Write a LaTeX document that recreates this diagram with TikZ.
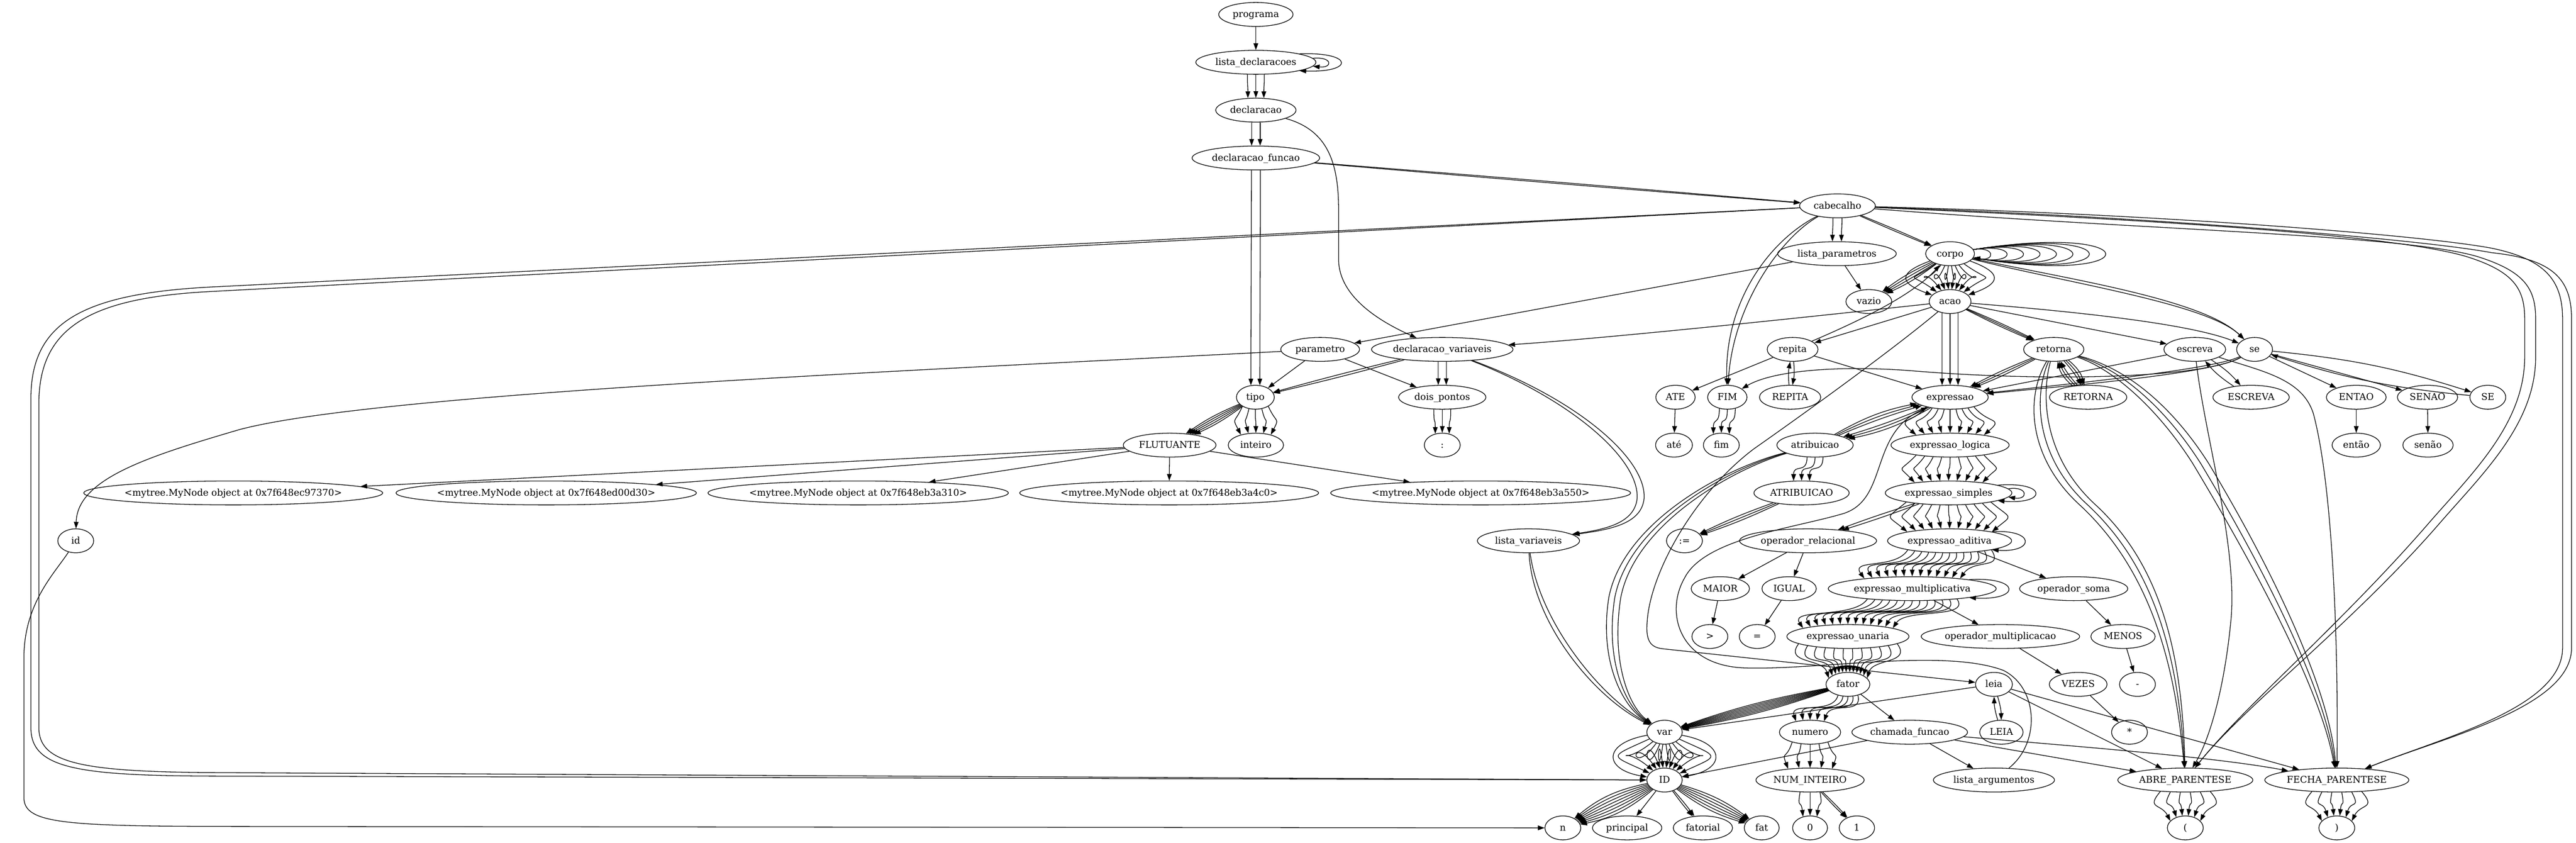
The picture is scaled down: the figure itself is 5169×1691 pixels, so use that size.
\documentclass[tikz,border=0pt]{standalone}
\usepackage{fontspec}
\setmainfont{DejaVu Serif}
\usetikzlibrary{arrows.meta,calc,shapes.geometric}
\newcommand\gn[5]{\node[gnode, minimum width={#4*0.75pt}] (#1) at (#2,#3) {\makebox[0pt]{#5}};}
% fan of parallel edges: from, to, count, sep at start, sep at end, bulge, ctrl length, rx start, rx end
\newcommand\fanx[9]{%
 \foreach \i in {1,...,#3}{%
  \pgfmathsetmacro\myoa{(\i-(#3+1)/2)*#4}%
  \pgfmathsetmacro\myob{(\i-(#3+1)/2)*#5}%
  \pgfmathsetmacro\myya{24*(1-sqrt(max(0,1-(\myoa/#8)*(\myoa/#8))))}%
  \pgfmathsetmacro\myyb{24*(1-sqrt(max(0,1-(\myob/#9)*(\myob/#9))))}%
  \draw[arr] ($(#1.south)+(\myoa,-\myya)$) .. controls +({\myoa*#6},#7) and +({\myob*#6},-#7) .. ($(#2.north)+(\myob,\myyb)$);}}
% round fan between two stacked small nodes: from, to, count, max angle, reach
\newcommand\arcfan[5]{%
 \foreach \i in {1,...,#3}{%
  \pgfmathsetmacro\myang{-#4+2*#4*(\i-1)/(#3-1)}%
  \pgfmathtruncatemacro\mysa{270+\myang}%
  \pgfmathtruncatemacro\myea{90-\myang}%
  \pgfmathsetmacro\mycx{sin(\myang)*#5}%
  \pgfmathsetmacro\mycy{cos(\myang)*#5}%
  \draw[arr] (#1.\mysa) .. controls +(\mycx,\mycy) and +(\mycx,-\mycy) .. (#2.\myea);}}
% lens of bent edges: from, to, count, angle step, angle offset
\newcommand\lens[5]{%
 \foreach \i in {1,...,#3}{%
  \pgfmathsetmacro\myang{#5+(\i-(#3+1)/2)*#4}%
  \draw[arr] (#1) to[bend left=\myang] (#2);}}
% self loop: node, start angle, end angle, reach, height
\newcommand\sloop[5]{\draw[arr] (#1.#2) .. controls +(#4,-#5) and +(#4,#5) .. (#1.#3);}
\begin{document}
\begin{tikzpicture}[x=0.75pt,y=-0.75pt,
 gnode/.style={draw,ellipse,line width=1pt,minimum height=36pt,inner sep=0pt,text height=11pt,text depth=2.2pt,font=\fontsize{14pt}{17pt}\selectfont},
 arr/.style={draw,line width=1pt,-{Triangle[length=10pt,width=7pt]}}]
\fill[white] (0,0) rectangle (5169,1691);
\useasboundingbox (0,0) rectangle (5169,1691);
% ---------------- nodes ----------------
\gn{programa}{2520}{29}{149}{programa}
\gn{listadecl}{2520}{125}{241}{lista\_declaracoes}
\gn{declaracao}{2520}{221}{161}{declaracao}
\gn{declfunc}{2520}{317}{256}{declaracao\_funcao}
\gn{cabecalho}{3687}{413}{152}{cabecalho}
\gn{listaparam}{3686}{509}{238}{lista\_parametros}
\gn{corpo}{3913}{509}{98}{corpo}
\gn{vazio}{3750}{605}{92}{vazio}
\gn{acao}{3913}{605}{84}{acao}
\gn{parametro}{2649}{701}{158}{parametro}
\gn{declvar}{2894}{701}{284}{declaracao\_variaveis}
\gn{repita}{3597}{701}{102}{repita}
\gn{retorna}{4121}{701}{121}{retorna}
\gn{escreva}{4404}{701}{124}{escreva}
\gn{se}{4524}{701}{72}{se}
\gn{tipo}{2519}{797}{76}{tipo}
\gn{doispontos}{2894}{797}{175}{dois\_pontos}
\gn{ATE}{3362}{797}{79}{ATE}
\gn{FIM}{3466}{797}{79}{FIM}
\gn{REPITA}{3592}{797}{123}{REPITA}
\gn{expressao}{3913}{797}{153}{expressao}
\gn{RETORNA}{4190}{797}{155}{RETORNA}
\gn{ESCREVA}{4517}{797}{153}{ESCREVA}
\gn{ENTAO}{4728}{797}{120}{ENTAO}
\gn{SENAO}{4871}{797}{121}{SENAO}
\gn{SE}{4992}{797}{72}{SE}
\gn{FLUTUANTE}{2347}{893}{186}{FLUTUANTE}
\gn{inteiro}{2520}{893}{111}{inteiro}
\gn{colon}{2894}{893}{72}{:}
\gn{ateL}{3359}{893}{74}{até}
\gn{fimL}{3454}{893}{72}{fim}
\gn{atribuicao}{3642}{893}{153}{atribuicao}
\gn{exlogica}{3913}{893}{237}{expressao\_logica}
\gn{entao}{4728}{893}{97}{então}
\gn{senao}{4872}{893}{101}{senão}
\gn{mtA}{468}{989}{600}{<mytree.MyNode object at 0x7f648ec97370>}
\gn{mtB}{1096}{989}{603}{<mytree.MyNode object at 0x7f648ed00d30>}
\gn{mtC}{1722}{989}{603}{<mytree.MyNode object at 0x7f648eb3a310>}
\gn{mtD}{2346}{989}{600}{<mytree.MyNode object at 0x7f648eb3a4c0>}
\gn{mtE}{2971}{989}{602}{<mytree.MyNode object at 0x7f648eb3a550>}
\gn{ATRIBUICAO}{3615}{989}{191}{ATRIBUICAO}
\gn{exsimples}{3910}{989}{254}{expressao\_simples}
\gn{id}{152}{1085}{72}{id}
\gn{listavar}{3067}{1085}{205}{lista\_variaveis}
\gn{assign}{3380}{1085}{72}{:=}
\gn{oprel}{3628}{1085}{275}{operador\_relacional}
\gn{exaditiva}{3912}{1085}{249}{expressao\_aditiva}
\gn{MAIOR}{3452}{1181}{117}{MAIOR}
\gn{IGUAL}{3590}{1181}{109}{IGUAL}
\gn{exmult}{3837}{1181}{337}{expressao\_multiplicativa}
\gn{opsoma}{4161}{1181}{217}{operador\_soma}
\gn{gt}{3431}{1277}{72}{>}
\gn{eq}{3526}{1277}{72}{=}
\gn{exunaria}{3708}{1277}{245}{expressao\_unaria}
\gn{opmult}{4014}{1277}{318}{operador\_multiplicacao}
\gn{MENOS}{4260}{1277}{129}{MENOS}
\gn{fator}{3708}{1373}{88}{fator}
\gn{leia}{4001}{1373}{74}{leia}
\gn{VEZES}{4170}{1373}{116}{VEZES}
\gn{minus}{4289}{1373}{72}{-}
\gn{var}{3340}{1469}{71}{var}
\gn{numero}{3632}{1469}{123}{numero}
\gn{chamada}{3832}{1469}{232}{chamada\_funcao}
\gn{LEIA}{4016}{1469}{87}{LEIA}
\gn{times}{4273}{1469}{72}{*}
\gn{ID}{3340}{1565}{71}{ID}
\gn{numint}{3632}{1565}{217}{NUM\_INTEIRO}
\gn{listaarg}{4001}{1565}{243}{lista\_argumentos}
\gn{ABRE}{4385}{1565}{271}{ABRE\_PARENTESE}
\gn{FECHA}{4689}{1565}{289}{FECHA\_PARENTESE}
\gn{n}{3136}{1661}{72}{n}
\gn{principal}{3265}{1661}{139}{principal}
\gn{fatorial}{3417}{1661}{119}{fatorial}
\gn{fat}{3535}{1661}{70}{fat}
\gn{zero}{3632}{1661}{70}{0}
\gn{one}{3726}{1661}{71}{1}
\gn{lparen}{4385}{1661}{72}{(}
\gn{rparen}{4689}{1661}{72}{)}
% ---------------- fans (vertical multi-edges) ----------------
\fanx{listadecl}{declaracao}{3}{17}{16}{0}{30}{120}{80}
\fanx{declaracao}{declfunc}{2}{17}{17}{0}{30}{80}{128}
\fanx{declfunc}{tipo}{2}{18}{18}{0}{100}{128}{38}
\fanx{cabecalho}{listaparam}{2}{18}{18}{0}{30}{76}{119}
\arcfan{corpo}{acao}{10}{70}{70}
\fanx{acao}{expressao}{3}{16}{16}{0}{60}{42}{76}
\fanx{expressao}{exlogica}{9}{12}{17}{0.6}{35}{76}{118}
\fanx{exlogica}{exsimples}{9}{17}{17}{0.5}{35}{118}{127}
\fanx{exsimples}{exaditiva}{11}{17}{17}{0.5}{35}{127}{124}
\fanx{exaditiva}{exmult}{13}{14}{16}{0.3}{40}{124}{168}
\fanx{exmult}{exunaria}{13}{15}{15}{0.3}{40}{168}{122}
\fanx{exunaria}{fator}{12}{18}{7}{0.3}{40}{122}{44}
\fanx{fator}{numero}{5}{10}{14}{0.5}{40}{44}{61}
\arcfan{var}{ID}{12}{80}{90}
\fanx{numero}{numint}{5}{18}{22}{0.3}{35}{61}{108}
\fanx{numint}{zero}{3}{20}{14}{0.3}{35}{108}{35}
\fanx{ABRE}{lparen}{6}{20}{12}{0.6}{35}{135}{36}
\fanx{FECHA}{rparen}{6}{20}{12}{0.6}{35}{144}{36}
\fanx{tipo}{inteiro}{5}{13}{15}{0.6}{35}{38}{55}
\fanx{doispontos}{colon}{3}{17}{14}{0}{35}{87}{36}
\fanx{declvar}{doispontos}{2}{16}{16}{0}{35}{142}{87}
\fanx{FIM}{fimL}{3}{16}{16}{0}{35}{39}{36}
\fanx{atribuicao}{ATRIBUICAO}{3}{16}{16}{0}{35}{76}{95}
% ---------------- lenses (diagonal multi-edges) ----------------
\lens{tipo}{FLUTUANTE}{5}{3}{0}
\lens{declvar}{tipo}{2}{2}{0}
\lens{declfunc}{cabecalho}{2}{0.4}{0}
\lens{cabecalho}{corpo}{2}{2}{0}
\lens{corpo}{vazio}{4}{4}{0}
\lens{acao}{retorna}{3}{2}{0}
\lens{retorna}{expressao}{3}{3}{0}
\lens{retorna}{RETORNA}{3}{6}{12}
\lens{RETORNA}{retorna}{3}{6}{12}
\lens{expressao}{atribuicao}{3}{3}{6}
\lens{atribuicao}{expressao}{3}{3}{6}
\lens{exsimples}{oprel}{2}{3}{0}
\lens{ID}{n}{8}{4}{0}
\lens{ID}{fatorial}{2}{5}{0}
\lens{ID}{fat}{6}{4}{0}
\lens{ATRIBUICAO}{assign}{3}{3}{0}
\lens{fator}{var}{8}{1.2}{0}
\lens{numint}{one}{2}{4}{0}
\lens{repita}{REPITA}{1}{0}{8}
\lens{REPITA}{repita}{1}{0}{8}
\lens{escreva}{ESCREVA}{1}{0}{8}
\lens{ESCREVA}{escreva}{1}{0}{8}
\lens{se}{SE}{1}{0}{6}
\lens{SE}{se}{1}{0}{6}
\lens{leia}{LEIA}{1}{0}{8}
\lens{LEIA}{leia}{1}{0}{8}
% ---------------- self loops ----------------
\sloop{listadecl}{4}{356}{40}{4}
\sloop{listadecl}{11}{349}{110}{4}
\foreach \k in {1,...,8}{\pgfmathsetmacro\myD{44*\k}\pgfmathsetmacro\myH{7*\k}\sloop{corpo}{10}{350}{\myD}{\myH}}
\sloop{exsimples}{4}{356}{40}{6}
\sloop{exsimples}{9}{351}{100}{8}
\sloop{exaditiva}{12}{348}{87}{6}
\sloop{exmult}{9}{351}{104}{6}
% ---------------- single edges ----------------
\draw[arr] (programa) -- (listadecl);
\draw[arr] (listaparam) -- (vazio);
\draw[arr] (listaparam) -- (parametro);
\draw[arr] (parametro) -- (tipo);
\draw[arr] (parametro) -- (doispontos);
\draw[arr] (acao) -- (repita);
\draw[arr] (repita) -- (ATE);
\draw[arr] (repita) -- (expressao);
\draw[arr] (ATE) -- (ateL);
\draw[arr] (acao) -- (escreva);
\draw[arr] (acao) .. controls (4200,628) and (4400,652) .. (se);
\draw[arr] (acao) .. controls (3500,650) and (3200,680) .. (declvar);
\draw[arr] (escreva) -- (expressao);
\foreach \dy in {0,8}{\draw[arr] (se) .. controls (4440,{742+\dy}) and (4150,{770+\dy/2}) .. (expressao);}
\foreach \dd in {0,10}{\draw[arr] (corpo) .. controls ({4150+\dd},{560+\dd}) and ({4420+\dd},{600+\dd}) .. (se);}
\draw[arr] (se) -- (ENTAO);
\draw[arr] (se) -- (SENAO);
\draw[arr] (ENTAO) -- (entao);
\draw[arr] (SENAO) -- (senao);
\draw[arr] (FLUTUANTE) -- (mtA);
\draw[arr] (FLUTUANTE) -- (mtB);
\draw[arr] (FLUTUANTE) -- (mtC);
\draw[arr] (FLUTUANTE) -- (mtD);
\draw[arr] (FLUTUANTE) -- (mtE);
\draw[arr] (exaditiva) -- (opsoma);
\draw[arr] (oprel) -- (MAIOR);
\draw[arr] (oprel) -- (IGUAL);
\draw[arr] (MAIOR) -- (gt);
\draw[arr] (IGUAL) -- (eq);
\draw[arr] (exmult) -- (opmult);
\draw[arr] (opsoma) -- (MENOS);
\draw[arr] (MENOS) -- (minus);
\draw[arr] (opmult) -- (VEZES);
\draw[arr] (VEZES) -- (times);
\draw[arr] (fator) -- (chamada);
\draw[arr] (leia) -- (var);
\draw[arr] (leia) -- (ABRE);
\draw[arr] (leia) -- (FECHA);
\draw[arr] (chamada) -- (ID);
\draw[arr] (chamada) -- (listaarg);
\draw[arr] (chamada) -- (ABRE);
\draw[arr] (chamada) .. controls (4200,1500) and (4450,1520) .. (FECHA);
\draw[arr] (ID) -- (principal);
% ---------------- long routed edges ----------------
\draw[arr] (declaracao) .. controls (2660,260) and (2686,320) .. (2686,420) -- (2686,520) .. controls (2686,600) and (2780,650) .. (declvar);
\draw[arr] (cabecalho) -- (420,576) .. controls (160,590) and (62,650) .. (62,800) -- (62,1460) .. controls (62,1540) and (150,1556) .. (420,1557) -- (ID);
\draw[arr] (cabecalho) -- (420,585) .. controls (175,598) and (78,660) .. (78,810) -- (78,1460) .. controls (78,1530) and (160,1548) .. (420,1550) -- (ID);
\draw[arr] (id) .. controls (110,1150) and (48,1210) .. (48,1320) -- (48,1600) .. controls (48,1650) and (120,1657) .. (420,1658) -- (n);
\draw[arr] (parametro) .. controls (1800,745) and (750,790) .. (480,862) .. controls (300,915) and (155,960) .. (id);
\draw[arr] (cabecalho) .. controls (3555,480) and (3460,600) .. (FIM);
\draw[arr] (cabecalho) .. controls (3575,475) and (3478,610) .. (FIM);
\draw[arr] (se) .. controls (4420,760) and (4100,765) .. (3850,745) .. controls (3700,732) and (3560,742) .. (FIM);
\draw[arr] (listaarg) .. controls (4095,1490) and (4090,1380) .. (4020,1345) .. controls (3900,1300) and (3650,1345) .. (3500,1340) .. controls (3370,1335) and (3340,1230) .. (3380,1160) .. controls (3420,1080) and (3600,1060) .. (3700,1030) .. controls (3790,1000) and (3750,870) .. (expressao);
\draw[arr] (acao) .. controls (3800,700) and (3620,830) .. (3520,900) .. controls (3400,990) and (3310,1150) .. (3305,1250) .. controls (3302,1290) and (3315,1300) .. (3340,1302) -- (leia);
\draw[arr] (repita) .. controls (3740,640) and (3840,590) .. (corpo);
\foreach \dx in {0,22}{\draw[arr] (cabecalho) .. controls (4300,{440+\dx}) and ({4800+\dx},470) .. ({4950+\dx},515) .. controls ({5045+\dx},545) and ({5066+\dx},580) .. ({5066+\dx},640) -- ({5066+\dx},716) .. controls ({5066+\dx},850) and ({4960+\dx},950) .. ({4874+\dx},1049) .. controls ({4700+\dx},1250) and (4500,1420) .. (ABRE);}
\foreach \dx in {0,18}{\draw[arr] (cabecalho) .. controls (4300,{428+\dx/3}) and (4850,{470+\dx/2}) .. (5000,{498+\dx/2}) .. controls ({5105+\dx},520) and ({5142+\dx},560) .. ({5142+\dx},640) -- ({5142+\dx},1300) .. controls ({5142+\dx},1420) and (4900,1480) .. (FECHA);}
\foreach \dx in {0,16,32}{\draw[arr] (retorna) .. controls ({4062+\dx},800) and ({4072+\dx},920) .. ({4172+\dx},1012) .. controls ({4300+\dx},1130) and ({4362+\dx/2},1300) .. (ABRE);}
\foreach \dx in {0,16,32}{\draw[arr] (retorna) .. controls ({4240+\dx},740) and ({4330+\dx},820) .. ({4400+\dx},930) .. controls ({4550+\dx},1180) and ({4660+\dx/2},1400) .. (FECHA);}
\draw[arr] (escreva) .. controls (4425,880) and (4492,1100) .. (4476,1250) .. controls (4463,1380) and (4435,1480) .. (ABRE);
\draw[arr] (escreva) .. controls (4540,745) and (4620,760) .. (4642,830) .. controls (4682,980) and (4692,1300) .. (FECHA);
\foreach \dx in {0,12,24}{\draw[arr] (atribuicao) .. controls ({3480-\dx},940) and ({3280-\dx},1050) .. ({3252-\dx},1200) .. controls ({3232-\dx},1330) and ({3270-\dx/2},1420) .. (var);}
\foreach \dx in {0,14}{\draw[arr] (listavar) .. controls ({3075+\dx},1250) and ({3200+\dx},1400) .. (var);}
\foreach \dx in {0,14}{\draw[arr] (declvar) .. controls ({3150+\dx},800) and ({3290+\dx},920) .. ({3285+\dx},1000) .. controls ({3280+\dx},1050) and ({3220+\dx},1062) .. (listavar);}
\end{tikzpicture}
\end{document}
